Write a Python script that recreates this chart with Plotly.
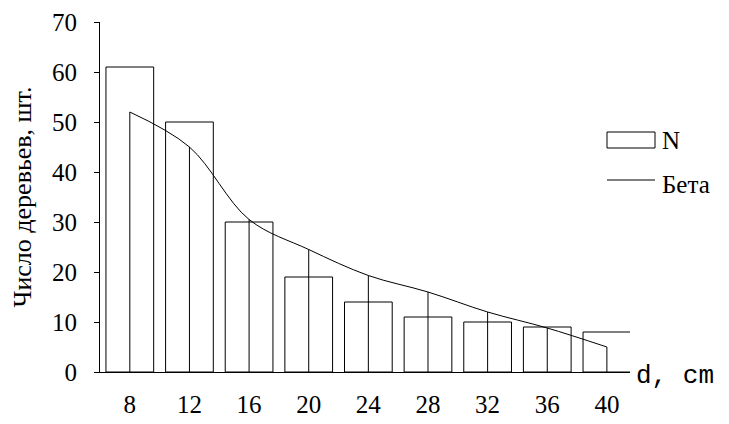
import plotly.graph_objects as go

d = [8, 12, 16, 20, 24, 28, 32, 36, 40]
n_vals = [61, 50, 30, 19, 14, 11, 10, 9, 8]
beta_vals = [52, 45, 30.5, 24.5, 19.3, 16, 12, 8.8, 5]
y_ticks = [0, 10, 20, 30, 40, 50, 60, 70]

SERIF = "Liberation Serif"
OFF = 8  # page body margin

W, H = 729 - OFF, 424 - OFF
L = 100 - OFF
R = W - (630 - OFF)
T = 22 - OFF
B = H - (372 - OFF)
pw, ph = W - L - R, H - T - B

def px(x):
    return (x - OFF - L) / pw

def py(y):
    return (H - B - (y - OFF)) / ph

fig = go.Figure()
fig.add_trace(go.Bar(
    x=d, y=n_vals, name="N", width=3.2,
    marker=dict(color="white", line=dict(color="black", width=1)),
    showlegend=False,
))
fig.add_trace(go.Scatter(
    x=d, y=beta_vals, mode="markers", marker=dict(size=0.1, color="black"),
    error_y=dict(type="data", symmetric=False, array=[0] * len(d),
                 arrayminus=beta_vals, width=0, thickness=1, color="black"),
    showlegend=False, hoverinfo="skip",
))
fig.add_trace(go.Scatter(
    x=d, y=beta_vals, name="Бета", mode="lines",
    line=dict(color="black", width=1, shape="spline"),
    showlegend=False,
))

# manual legend
fig.add_shape(type="rect", xref="paper", yref="paper",
              x0=px(607), x1=px(655), y0=py(148), y1=py(132),
              line=dict(color="black", width=1), fillcolor="white")
fig.add_shape(type="line", xref="paper", yref="paper",
              x0=px(607), x1=px(655), y0=py(180), y1=py(180),
              line=dict(color="black", width=1))
fig.add_annotation(text="N", xref="paper", yref="paper", x=px(660), y=py(140),
                   xanchor="left", yanchor="middle", showarrow=False,
                   font=dict(family=SERIF, size=25, color="black"))
fig.add_annotation(text="Бета", xref="paper", yref="paper", x=px(660), y=py(184),
                   xanchor="left", yanchor="middle", showarrow=False,
                   font=dict(family=SERIF, size=25, color="black"))
fig.add_annotation(text="d, cm", xref="paper", yref="paper", x=px(634), y=py(376),
                   xanchor="left", yanchor="middle", showarrow=False,
                   font=dict(family="Liberation Mono", size=26, color="black"))

fig.update_layout(
    width=W, height=H,
    margin=dict(l=L, r=R, t=T, b=B, autoexpand=False),
    paper_bgcolor="white", plot_bgcolor="white",
    font=dict(family=SERIF, size=25, color="black"),
    showlegend=False,
    bargap=0.2,
)
fig.update_xaxes(
    range=[6, 41.55], tickvals=d, ticktext=[str(v) for v in d],
    showline=True, linecolor="black", linewidth=1, showgrid=False, zeroline=False,
    ticks="", ticklabelstandoff=10, tickfont=dict(family=SERIF, size=25),
)
fig.update_yaxes(
    range=[0, 70], tickvals=y_ticks, showline=True, linecolor="black", linewidth=1,
    showgrid=False, zeroline=False, ticks="outside", ticklen=5, tickcolor="black",
    ticklabelstandoff=12, tickfont=dict(family=SERIF, size=25),
    title=dict(text="Число деревьев, шт.", font=dict(family=SERIF, size=26)),
)

fig.write_html("out.html")
